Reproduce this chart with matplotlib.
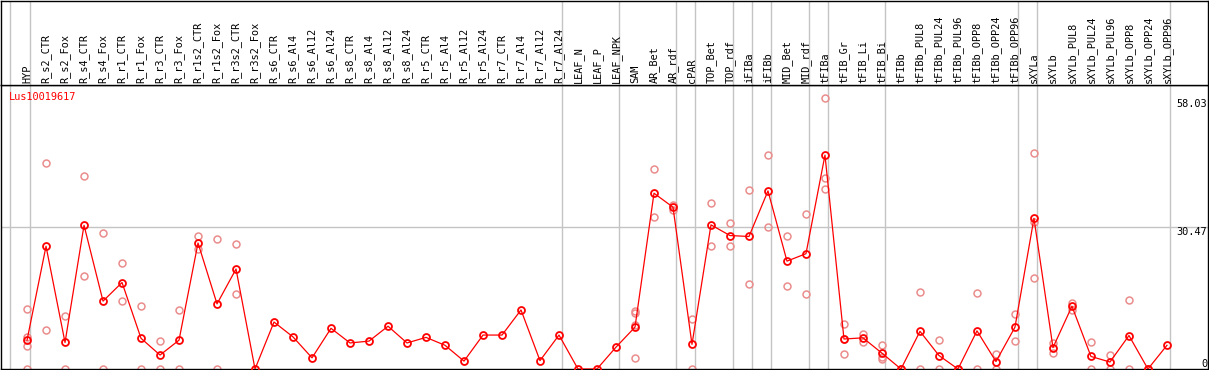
import numpy as np
import matplotlib
matplotlib.use('Agg')
import matplotlib.pyplot as plt

gene = 'Lus10019617'

samples = ['HYP',
           'R_s2_CTR', 'R_s2_Fox', 'R_s4_CTR', 'R_s4_Fox', 'R_r1_CTR', 'R_r1_Fox',
           'R_r3_CTR', 'R_r3_Fox', 'R_r1s2_CTR', 'R_r1s2_Fox', 'R_r3s2_CTR', 'R_r3s2_Fox',
           'R_s6_CTR', 'R_s6_Al4', 'R_s6_Al12', 'R_s6_Al24',
           'R_s8_CTR', 'R_s8_Al4', 'R_s8_Al12', 'R_s8_Al24',
           'R_r5_CTR', 'R_r5_Al4', 'R_r5_Al12', 'R_r5_Al24',
           'R_r7_CTR', 'R_r7_Al4', 'R_r7_Al12', 'R_r7_Al24',
           'LEAF_N', 'LEAF_P', 'LEAF_NPK',
           'SAM', 'AR_Bet', 'AR_rdf', 'cPAR', 'TOP_Bet', 'TOP_rdf',
           'iFIBa', 'iFIBb', 'MID_Bet', 'MID_rdf', 'tFIBa',
           'tFIB_Gr', 'tFIB_Li', 'tFIB_Bi',
           'tFIBb', 'tFIBb_PUL8', 'tFIBb_PUL24', 'tFIBb_PUL96',
           'tFIBb_OPP8', 'tFIBb_OPP24', 'tFIBb_OPP96',
           'sXYLa', 'sXYLb', 'sXYLb_PUL8', 'sXYLb_PUL24', 'sXYLb_PUL96',
           'sXYLb_OPP8', 'sXYLb_OPP24', 'sXYLb_OPP96']

# mean expression per sample
means = [6.2, 26.4, 5.7, 30.9, 14.6, 18.6, 6.6, 3.0, 6.2, 27.1, 14.0, 21.5, 0.0,
         10.1, 6.9, 2.4, 8.75, 5.6, 6.0, 9.2, 5.6, 6.8, 5.1, 1.7, 7.3,
         7.3, 12.7, 1.8, 7.3, 0.0, 0.0, 4.7,
         9.0, 37.8, 34.8, 5.3, 31.0, 28.7, 28.5, 38.3, 23.2, 24.8, 46.0,
         6.45, 6.7, 3.4, 0.0, 8.1, 2.9, 0.0, 8.2, 1.6, 9.0,
         32.4, 4.6, 13.5, 2.7, 1.5, 7.2, 0.0, 5.1]

# individual replicates
replicates = {
    'HYP': [12.8, 6.9, 5.0, 0.0],
    'R_s2_CTR': [44.2, 8.4],
    'R_s2_Fox': [11.5, 0.0],
    'R_s4_CTR': [41.6, 20.1],
    'R_s4_Fox': [29.2, 0.0],
    'R_r1_CTR': [22.7, 14.6],
    'R_r1_Fox': [13.5, 0.0],
    'R_r3_CTR': [6.0, 0.0],
    'R_r3_Fox': [12.7, 0.0],
    'R_r1s2_CTR': [28.5, 25.7],
    'R_r1s2_Fox': [28.0, 0.0],
    'R_r3s2_CTR': [26.8, 16.1],
    'SAM': [12.5, 12.0, 9.5, 2.3],
    'AR_Bet': [43.0, 32.6],
    'AR_rdf': [35.3, 34.3],
    'cPAR': [10.75, 0.0],
    'TOP_Bet': [35.6, 26.4],
    'TOP_rdf': [31.3, 26.4],
    'iFIBa': [38.5, 18.3],
    'iFIBb': [46.0, 30.5],
    'MID_Bet': [28.7, 17.8],
    'MID_rdf': [33.3, 16.1],
    'tFIBa': [58.2, 41.0, 38.7],
    'tFIB_Gr': [9.7, 6.4, 3.2],
    'tFIB_Li': [7.6, 5.8],
    'tFIB_Bi': [5.2, 2.65, 2.2],
    'tFIBb': [0.0, 0.0],
    'tFIBb_PUL8': [16.6, 0.0],
    'tFIBb_PUL24': [6.2, 0.0],
    'tFIBb_PUL96': [0.0, 0.0],
    'tFIBb_OPP8': [16.3, 0.0],
    'tFIBb_OPP24': [3.2, 0.0],
    'tFIBb_OPP96': [11.75, 6.0],
    'sXYLa': [46.4, 31.7, 19.5],
    'sXYLb': [5.5, 3.4],
    'sXYLb_PUL8': [14.1, 12.7],
    'sXYLb_PUL24': [5.7, 0.0],
    'sXYLb_PUL96': [3.0, 0.0],
    'sXYLb_OPP8': [14.8, 0.0],
    'sXYLb_OPP24': [0.0, 0.0],
}

y_ticks = [0, 30.47, 58.03]

# last sample of each tissue group (vertical separators)
group_ends = ['HYP', 'R_r7_Al24', 'LEAF_NPK', 'AR_rdf', 'cPAR', 'TOP_rdf', 'iFIBa',
              'iFIBb', 'MID_rdf', 'tFIBa', 'tFIB_Bi', 'tFIBb_OPP96', 'sXYLa', 'sXYLb_OPP96']

W, H = 1209, 370
fig = plt.figure(figsize=(W / 100, H / 100), dpi=100)
plt.rcParams['font.family'] = ['DejaVu Sans Mono']

grid_c = '#c4c4c4'
x = np.arange(len(samples))
xmin, xmax = -1.37, 62.16

head_px = 85
ax = fig.add_axes([1 / W, 1 / H, 1207 / W, (H - 1 - head_px) / H])
hd = fig.add_axes([1 / W, 1 - head_px / H, 1207 / W, (head_px - 0.5) / H])

for a in (ax, hd):
    a.set_xlim(xmin, xmax)
    a.set_xticks([])
    a.set_yticks([])
    for s in a.spines.values():
        s.set_color('black')
        s.set_linewidth(1.0)
    seps = [-0.9] + [samples.index(g) + 0.17 for g in group_ends]
    for sx in seps:
        a.axvline(sx, color=grid_c, lw=1.0, zorder=0)

ax.set_ylim(0, (H - 1 - head_px) / 4.65)
ax.axhline(y_ticks[1], color=grid_c, lw=1.0, zorder=0)

# replicate points
for name, vals in replicates.items():
    i = samples.index(name)
    ax.plot([i] * len(vals), vals, 'o', ms=5.0, mfc='none', mec='#eb8c8c', mew=1.1, zorder=2)

ax.plot(x, means, '-', color='red', lw=0.9, zorder=3)
ax.plot(x, means, 'o', ms=5.0, mfc='none', mec='red', mew=1.3, zorder=4)

# y labels on the right
for v in y_ticks:
    ax.text(0.9995, v, f'{v:g}' if v == 0 else f'{v:.2f}', transform=ax.get_yaxis_transform(),
            ha='right', va='bottom' if v == 0 else 'top', fontsize=7.4, color='black')

ax.text(8 / 1207, 1 - 12 / (H - 1 - head_px), gene, transform=ax.transAxes, color='red',
        fontsize=7.4, ha='left', va='center')

hd.set_ylim(0, head_px)
for i, name in enumerate(samples):
    hd.text(i, 2, name, rotation=90, ha='center', va='bottom', fontsize=7.4)

fig.savefig('out.png', dpi=100)
